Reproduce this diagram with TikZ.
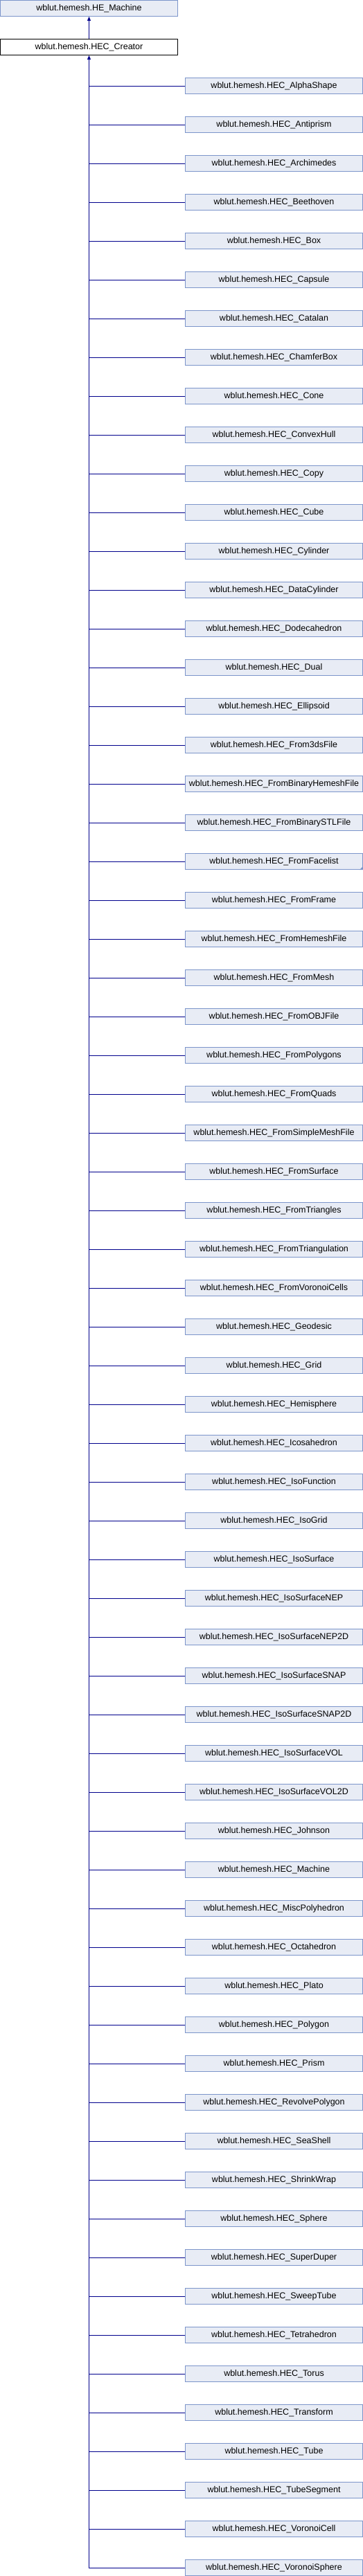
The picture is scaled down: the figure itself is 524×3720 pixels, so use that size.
\documentclass[tikz,border=0pt]{standalone}
\usepackage{fontspec}
\setmainfont{Liberation Sans}
\usetikzlibrary{arrows.meta,calc}
\definecolor{boxfill}{RGB}{232,236,245}
\definecolor{boxline}{RGB}{124,149,202}
\definecolor{edgecol}{RGB}{0,0,140}
\tikzset{
  classbox/.style={draw=boxline, fill=boxfill, line width=1pt, minimum width=256pt, minimum height=23pt, inner sep=0pt, font=\fontsize{12.5}{14}\selectfont, anchor=center},
  mainbox/.style={draw=black, fill=white, line width=1pt, minimum width=256pt, minimum height=23pt, inner sep=0pt, font=\fontsize{12.5}{14}\selectfont, anchor=center},
  edge/.style={draw=edgecol, line width=1pt},
  inh/.style={edge, -{Triangle[width=5pt,length=6pt]}}
}
\begin{document}
\begin{tikzpicture}[x=1pt,y=1pt]
\useasboundingbox (0,0) rectangle (524,-3720);
\node[classbox] (machine) at (128.5,-12) {wblut.hemesh.HE\_Machine};
\node[mainbox] (creator) at (128.5,-68) {wblut.hemesh.HEC\_Creator};
\foreach \nm [count=\i] in {AlphaShape,Antiprism,Archimedes,Beethoven,Box,Capsule,Catalan,ChamferBox,Cone,ConvexHull,Copy,Cube,Cylinder,DataCylinder,Dodecahedron,Dual,Ellipsoid,From3dsFile,FromBinaryHemeshFile,FromBinarySTLFile,FromFacelist,FromFrame,FromHemeshFile,FromMesh,FromOBJFile,FromPolygons,FromQuads,FromSimpleMeshFile,FromSurface,FromTriangles,FromTriangulation,FromVoronoiCells,Geodesic,Grid,Hemisphere,Icosahedron,IsoFunction,IsoGrid,IsoSurface,IsoSurfaceNEP,IsoSurfaceNEP2D,IsoSurfaceSNAP,IsoSurfaceSNAP2D,IsoSurfaceVOL,IsoSurfaceVOL2D,Johnson,Machine,MiscPolyhedron,Octahedron,Plato,Polygon,Prism,RevolvePolygon,SeaShell,ShrinkWrap,Sphere,SuperDuper,SweepTube,Tetrahedron,Torus,Transform,Tube,TubeSegment,VoronoiCell,VoronoiSphere}{
  \node[classbox] (c\i) at (395.5,{-124-56*(\i-1)}) {wblut.hemesh.HEC\_\nm};
  \draw[edge] ([yshift=-0.5pt]c\i.west) -- ([yshift=-0.5pt]c\i.west -| creator.south);
}
\fill[boxline] ($(c21.south east)+(0,5)$) -- (c21.south east) -- ++(-5,0) -- cycle;
\coordinate (trunkend) at ([yshift=-0.5pt]c65.west -| creator.south);
\draw[inh] (trunkend) -- (creator.south);
\draw[inh] (creator.north) -- (machine.south);
\end{tikzpicture}
\end{document}
